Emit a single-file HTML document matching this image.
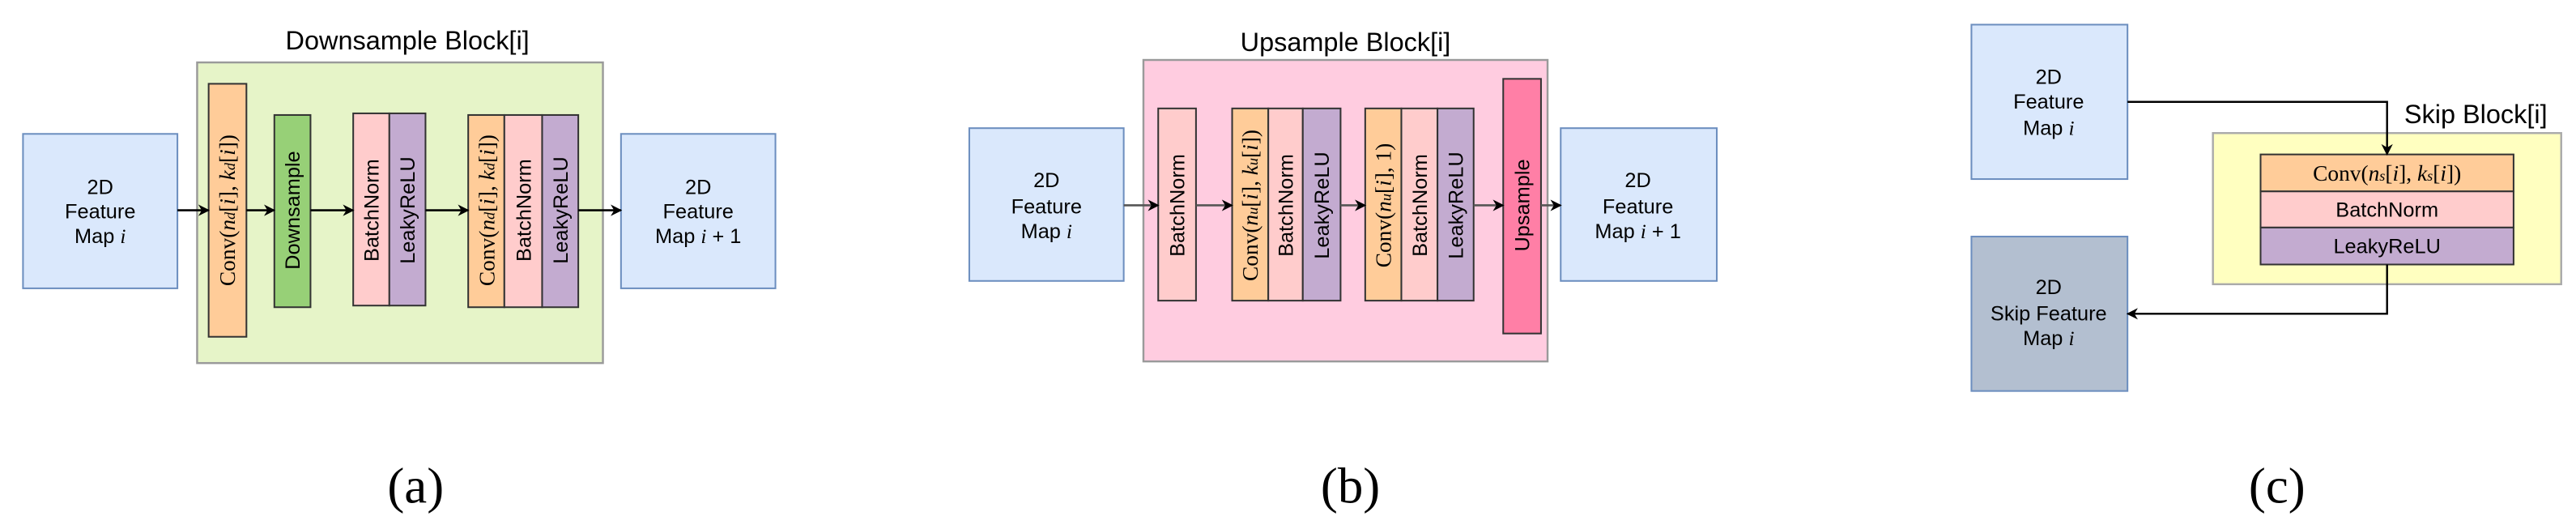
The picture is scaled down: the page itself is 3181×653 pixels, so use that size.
<!DOCTYPE html>
<html><head><style>html,body{margin:0;padding:0;background:#fff;}svg{display:block}</style></head>
<body>
<svg width="3181" height="653" viewBox="0 0 1568 322" preserveAspectRatio="none" xmlns="http://www.w3.org/2000/svg" font-family="Liberation Sans, sans-serif">
<defs>
<marker id="ar" viewBox="0 0 10 10" refX="9" refY="5" markerWidth="7" markerHeight="7" orient="auto" markerUnits="userSpaceOnUse"><path d="M0,0 L10,5 L0,10 L3,5 z" fill="#000"/></marker>
</defs>
<style>
.t{font-size:12.5px;text-anchor:middle;fill:#000}
.m{font-family:"Liberation Serif",serif;font-size:13.5px;text-anchor:middle}
.ti{font-size:16px;text-anchor:middle}
.cap{font-family:"Liberation Serif",serif;font-size:31px;text-anchor:middle}
.bar{stroke:#333;stroke-width:1}
</style>
<!-- (a) -->
<text class="ti" x="248" y="30">Downsample Block[i]</text>
<rect x="120" y="38" width="247" height="183" fill="#e6f4c8" stroke="#9a9a9a" stroke-width="1.2"/>
<rect x="14" y="81.5" width="94" height="94" fill="#dae8fc" stroke="#6c8ebf"/>
<text class="t" x="61" y="118">2D</text><text class="t" x="61" y="133">Feature</text><text class="t" x="61" y="148">Map <tspan font-family="Liberation Serif" font-style="italic">i</tspan></text>
<rect x="378" y="81.5" width="94" height="94" fill="#dae8fc" stroke="#6c8ebf"/>
<text class="t" x="425" y="118">2D</text><text class="t" x="425" y="133">Feature</text><text class="t" x="425" y="148">Map <tspan font-family="Liberation Serif" font-style="italic">i</tspan> + 1</text>
<rect class="bar" x="127" y="51" width="23" height="154" fill="#ffcc99"/>
<text class="m" transform="translate(143,128) rotate(-90)">Conv(<tspan font-style="italic">n<tspan font-size="9">d</tspan></tspan>[<tspan font-style="italic">i</tspan>], <tspan font-style="italic">k<tspan font-size="9">d</tspan></tspan>[<tspan font-style="italic">i</tspan>])</text>
<rect class="bar" x="167" y="70" width="22" height="117" fill="#97d077"/>
<text class="t" transform="translate(182.5,128) rotate(-90)">Downsample</text>
<rect class="bar" x="215" y="69" width="22" height="117" fill="#ffcccc"/>
<rect class="bar" x="237" y="69" width="22" height="117" fill="#c3abd0"/>
<text class="t" transform="translate(230.5,128) rotate(-90)">BatchNorm</text>
<text class="t" transform="translate(252.5,128) rotate(-90)">LeakyReLU</text>
<rect class="bar" x="285" y="70" width="22" height="117" fill="#ffcc99"/>
<rect class="bar" x="307" y="70" width="23" height="117" fill="#ffcccc"/>
<rect class="bar" x="330" y="70" width="22" height="117" fill="#c3abd0"/>
<text class="m" transform="translate(301,128) rotate(-90)">Conv(<tspan font-style="italic">n<tspan font-size="9">d</tspan></tspan>[<tspan font-style="italic">i</tspan>], <tspan font-style="italic">k<tspan font-size="9">d</tspan></tspan>[<tspan font-style="italic">i</tspan>])</text>
<text class="t" transform="translate(323,128) rotate(-90)">BatchNorm</text>
<text class="t" transform="translate(345.5,128) rotate(-90)">LeakyReLU</text>
<g stroke="#000" stroke-width="1.3" marker-end="url(#ar)">
<line x1="108" y1="128" x2="127" y2="128"/><line x1="150" y1="128" x2="167" y2="128"/>
<line x1="189" y1="128" x2="215" y2="128"/><line x1="259" y1="128" x2="285" y2="128"/>
<line x1="352" y1="128" x2="378" y2="128"/>
</g>
<text class="cap" x="253" y="306">(a)</text>
<!-- (b) -->
<text class="ti" x="819" y="31">Upsample Block[i]</text>
<rect x="696" y="36.5" width="246" height="183.5" fill="#ffcce0" stroke="#9a9a9a" stroke-width="1.2"/>
<rect x="590" y="78" width="94" height="93" fill="#dae8fc" stroke="#6c8ebf"/>
<text class="t" x="637" y="114">2D</text><text class="t" x="637" y="130">Feature</text><text class="t" x="637" y="145">Map <tspan font-family="Liberation Serif" font-style="italic">i</tspan></text>
<rect x="950" y="78" width="95" height="93" fill="#dae8fc" stroke="#6c8ebf"/>
<text class="t" x="997" y="114">2D</text><text class="t" x="997" y="130">Feature</text><text class="t" x="997" y="145">Map <tspan font-family="Liberation Serif" font-style="italic">i</tspan> + 1</text>
<rect class="bar" x="705" y="66" width="23" height="117" fill="#ffcccc"/>
<text class="t" transform="translate(721,125) rotate(-90)">BatchNorm</text>
<rect class="bar" x="750" y="66" width="22" height="117" fill="#ffcc99"/>
<rect class="bar" x="772" y="66" width="21" height="117" fill="#ffcccc"/>
<rect class="bar" x="793" y="66" width="23" height="117" fill="#c3abd0"/>
<text class="m" transform="translate(765.5,125) rotate(-90)">Conv(<tspan font-style="italic">n<tspan font-size="9">u</tspan></tspan>[<tspan font-style="italic">i</tspan>], <tspan font-style="italic">k<tspan font-size="9">u</tspan></tspan>[<tspan font-style="italic">i</tspan>])</text>
<text class="t" transform="translate(787,125) rotate(-90)">BatchNorm</text>
<text class="t" transform="translate(809,125) rotate(-90)">LeakyReLU</text>
<rect class="bar" x="831" y="66" width="22" height="117" fill="#ffcc99"/>
<rect class="bar" x="853" y="66" width="22" height="117" fill="#ffcccc"/>
<rect class="bar" x="875" y="66" width="22" height="117" fill="#c3abd0"/>
<text class="m" transform="translate(846.5,125) rotate(-90)">Conv(<tspan font-style="italic">n<tspan font-size="9">u</tspan></tspan>[<tspan font-style="italic">i</tspan>], 1)</text>
<text class="t" transform="translate(868.5,125) rotate(-90)">BatchNorm</text>
<text class="t" transform="translate(890.5,125) rotate(-90)">LeakyReLU</text>
<rect class="bar" x="915" y="48" width="23" height="155" fill="#ff7fa6"/>
<text class="t" transform="translate(931,125) rotate(-90)">Upsample</text>
<g stroke="#555" stroke-width="1.3" marker-end="url(#ar)">
<line x1="684" y1="125" x2="705" y2="125"/><line x1="728" y1="125" x2="750" y2="125"/>
<line x1="816" y1="125" x2="831" y2="125"/><line x1="897" y1="125" x2="915" y2="125"/>
<line x1="938" y1="125" x2="950" y2="125"/>
</g>
<text class="cap" x="822" y="306">(b)</text>
<!-- (c) -->
<rect x="1200" y="15" width="95" height="94" fill="#dae8fc" stroke="#6c8ebf"/>
<text class="t" x="1247" y="51">2D</text><text class="t" x="1247" y="66">Feature</text><text class="t" x="1247" y="82">Map <tspan font-family="Liberation Serif" font-style="italic">i</tspan></text>
<rect x="1200" y="144" width="95" height="94" fill="#b3bfd0" stroke="#6c8ebf"/>
<text class="t" x="1247" y="179">2D</text><text class="t" x="1247" y="195">Skip Feature</text><text class="t" x="1247" y="210">Map <tspan font-family="Liberation Serif" font-style="italic">i</tspan></text>
<text class="ti" x="1507" y="75">Skip Block[i]</text>
<rect x="1347" y="81" width="212" height="92" fill="#ffffc0" stroke="#aaa" stroke-width="1.2"/>
<rect class="bar" x="1376" y="94" width="154" height="22.5" fill="#ffcc99"/>
<rect class="bar" x="1376" y="116.5" width="154" height="22" fill="#ffcccc"/>
<rect class="bar" x="1376" y="138.5" width="154" height="22.5" fill="#c3abd0"/>
<text class="m" x="1453" y="110" font-size="14">Conv(<tspan font-style="italic">n<tspan font-size="9">s</tspan></tspan>[<tspan font-style="italic">i</tspan>], <tspan font-style="italic">k<tspan font-size="9">s</tspan></tspan>[<tspan font-style="italic">i</tspan>])</text>
<text class="t" x="1453" y="132">BatchNorm</text>
<text class="t" x="1453" y="154">LeakyReLU</text>
<g fill="none" stroke="#000" stroke-width="1.2" marker-end="url(#ar)">
<polyline points="1295,62 1453,62 1453,94"/>
<polyline points="1453,161 1453,191 1295,191"/>
</g>
<text class="cap" x="1386" y="306">(c)</text>
</svg>
</body></html>
